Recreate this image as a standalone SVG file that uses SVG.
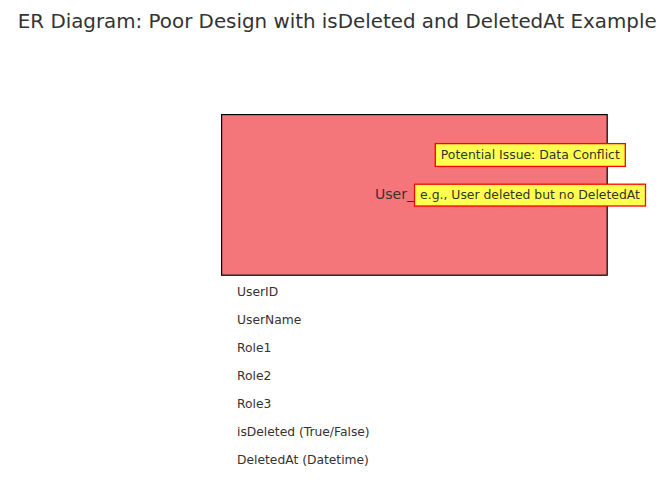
<svg xmlns="http://www.w3.org/2000/svg" width="670" height="483" viewBox="0 0 670 483">
<style>
text { font-family: "DejaVu Sans", "Liberation Sans", sans-serif; fill: #333333; }
.title { font-size: 19.85px; }
.entity { fill: #F4767A; stroke: #000000; stroke-width: 1.2; }
.name { font-size: 14px; }
.attr { font-size: 12.3px; }
.note { fill: #FFFF50; stroke: #FF0000; stroke-width: 1.3; }
.notetext { font-size: 12.4px; text-anchor: middle; }
</style>
<rect width="670" height="483" fill="#ffffff"/>
<text class="title" x="337.2" y="28" text-anchor="middle">ER Diagram: Poor Design with isDeleted and DeletedAt Example</text>
<g id="user-entity">
  <rect class="entity" x="221.6" y="114.6" width="385.6" height="160.6"/>
  <text class="name" x="375" y="198.5">User_</text>
  <text class="attr" x="237" y="296">UserID</text>
  <text class="attr" x="237" y="324">UserName</text>
  <text class="attr" x="237" y="352">Role1</text>
  <text class="attr" x="237" y="380">Role2</text>
  <text class="attr" x="237" y="408">Role3</text>
  <text class="attr" x="237" y="436">isDeleted (True/False)</text>
  <text class="attr" x="237" y="464">DeletedAt (Datetime)</text>
</g>
<g id="note-conflict">
  <rect class="note" x="435.3" y="143.6" width="190" height="22.8"/>
  <text class="notetext" x="530.3" y="159.2">Potential Issue: Data Conflict</text>
</g>
<g id="note-example">
  <rect class="note" x="414.5" y="184.2" width="231" height="21.8"/>
  <text class="notetext" x="530" y="199.3">e.g., User deleted but no DeletedAt</text>
</g>
<g id="connectors"></g>
</svg>
